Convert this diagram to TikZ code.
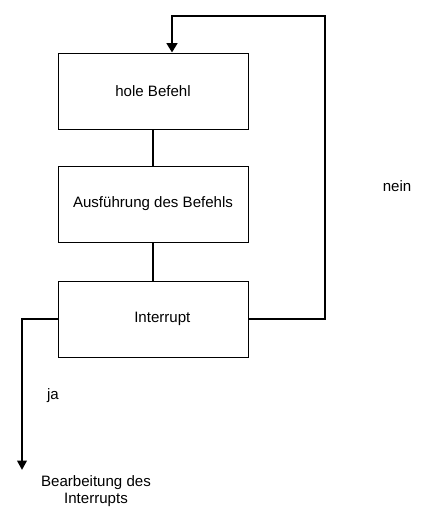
\documentclass[tikz,border=0pt]{standalone}
\usepackage{fontspec}
\setmainfont{Liberation Sans}
\usetikzlibrary{arrows.meta}

\begin{document}
\begin{tikzpicture}[x=0.75pt,y=-0.75pt,
    box/.style={draw, line width=0.75pt, minimum width=142.5pt, minimum height=57pt, inner sep=0pt, font=\fontsize{11.3}{13}\selectfont},
    flow/.style={line width=2.2pt},
    label/.style={font=\fontsize{11.3}{12.8}\selectfont}]
    \useasboundingbox (0,0) rectangle (441,518);
    \node[box] (hole) at (153,91) {hole Befehl};
    \node[box] (ausf) at (153,204) {Ausführung des Befehls};
    \node[box] (intr) at (153,319) {\hspace{14pt}Interrupt};
    \coordinate (r1) at (325,319);
    \coordinate (r2) at (325,16);
    \coordinate (r3) at (172,16);
    \coordinate (l1) at (22,319);
    \coordinate (l2) at (22,470);
    \draw[flow] (hole) -- (ausf);
    \draw[flow] (ausf) -- (intr);
    \draw[flow,-{Triangle[width=8pt,length=7pt]}] (intr.east) -- (r1) -- (r2) -- (r3) -- (hole.north -| r3);
    \draw[flow,-{Triangle[width=7pt,length=7pt]}] (intr.west) -- (l1) -- (l2);
    \node[label] (nein) at (397,186) {nein};
    \node[label] (ja) at (53,396) {ja};
    \node[label, align=center] (bearb) at (96,491) {Bearbeitung des\\Interrupts};
\end{tikzpicture}
\end{document}
